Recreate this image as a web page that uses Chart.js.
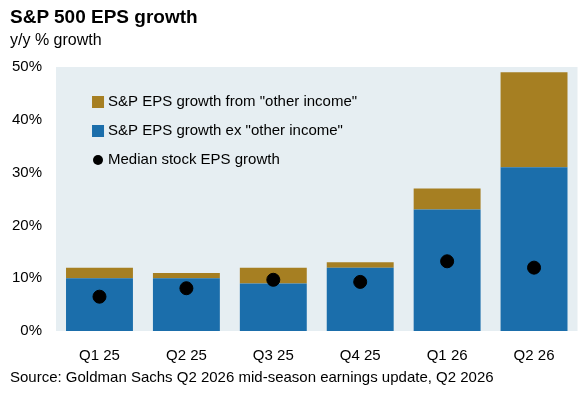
<!DOCTYPE html>
<html><head><meta charset="utf-8">
<script src="https://cdn.jsdelivr.net/npm/chart.js@4"></script>
<style>
body{margin:0;background:#fff;font-family:"Liberation Sans",Arial,sans-serif;}
#wrap{position:relative;width:585px;height:411px;}
#t{position:absolute;left:10px;top:6px;font-size:19px;font-weight:bold;color:#000;}
#s{position:absolute;left:10px;top:31px;font-size:16px;color:#000;}
#src{position:absolute;left:10px;top:368px;font-size:15px;color:#000;}
canvas{position:absolute;left:0;top:0;}
</style></head><body>
<div id="wrap">
<canvas id="c" width="585" height="411"></canvas>
<div id="t">S&amp;P 500 EPS growth</div>
<div id="s">y/y % growth</div>
<div id="src">Source: Goldman Sachs Q2 2026 mid-season earnings update, Q2 2026</div>
</div>
<script>
const categories = ["Q1 25","Q2 25","Q3 25","Q4 25","Q1 26","Q2 26"];
const exOther = [10, 10, 9, 12, 23, 31];
const otherIncome = [2, 1, 3, 1, 4, 18];
const medianStock = [6.5, 8.1, 9.7, 9.3, 13.2, 12];
const yTicks = [0, 10, 20, 30, 40, 50];

const BLUE = "#1b6eab", GOLD = "#a67f22", BG = "#e6eef2";

const bgPlugin = {
  id:"bg",
  beforeDraw(ch){
    const a = ch.chartArea, x = ch.ctx;
    x.save(); x.fillStyle = BG; x.fillRect(a.left, a.top, a.right-a.left, a.bottom-a.top); x.restore();
  }
};
const legendPlugin = {
  id:"leg",
  afterDraw(ch){
    const x = ch.ctx, a = ch.chartArea;
    const lx = a.left + 36, items = [
      {t:'S&P EPS growth from "other income"', c:GOLD, sq:true, y:a.top+35},
      {t:'S&P EPS growth ex "other income"', c:BLUE, sq:true, y:a.top+64},
      {t:'Median stock EPS growth', c:"#000", sq:false, y:a.top+93}
    ];
    x.save();
    x.font = '15px "Liberation Sans", Arial, sans-serif';
    x.textBaseline = "middle";
    items.forEach(it=>{
      x.fillStyle = it.c;
      if(it.sq) x.fillRect(lx, it.y-6, 12, 12);
      else { x.beginPath(); x.arc(lx+6, it.y, 5, 0, Math.PI*2); x.fill(); }
      x.fillStyle = "#000";
      x.fillText(it.t, lx+16, it.y);
    });
    x.restore();
  }
};

new Chart(document.getElementById("c"), {
  data:{
    labels:categories,
    datasets:[
      {type:"scatter", label:"Median", data:medianStock.map((v,i)=>({x:categories[i], y:v})),
       backgroundColor:"#000", borderColor:"#000", pointRadius:6.5, order:0},
      {type:"bar", label:"ex", data:exOther, backgroundColor:BLUE, barPercentage:0.77, categoryPercentage:1, stack:"s", order:2},
      {type:"bar", label:"other", data:otherIncome, backgroundColor:GOLD, barPercentage:0.77, categoryPercentage:1, stack:"s", order:2}
    ]
  },
  options:{
    responsive:false, animation:false,
    layout:{padding:{top:67, bottom:38, right:3, left:6}},
    plugins:{legend:{display:false}, tooltip:{enabled:false}},
    scales:{
      x:{type:"category", labels:categories, stacked:true, grid:{display:false}, border:{display:false},
         ticks:{color:"#000", font:{size:15, family:"Liberation Sans"}, padding:8}},
      y:{stacked:true, min:0, max:50, grid:{display:false}, border:{display:false},
         afterBuildTicks(s){ s.ticks = yTicks.map(v=>({value:v})); },
         ticks:{color:"#000", font:{size:15, family:"Liberation Sans"}, padding:6, callback:v=>v+"%"}}
    }
  },
  plugins:[bgPlugin, legendPlugin]
});
</script>
</body></html>
